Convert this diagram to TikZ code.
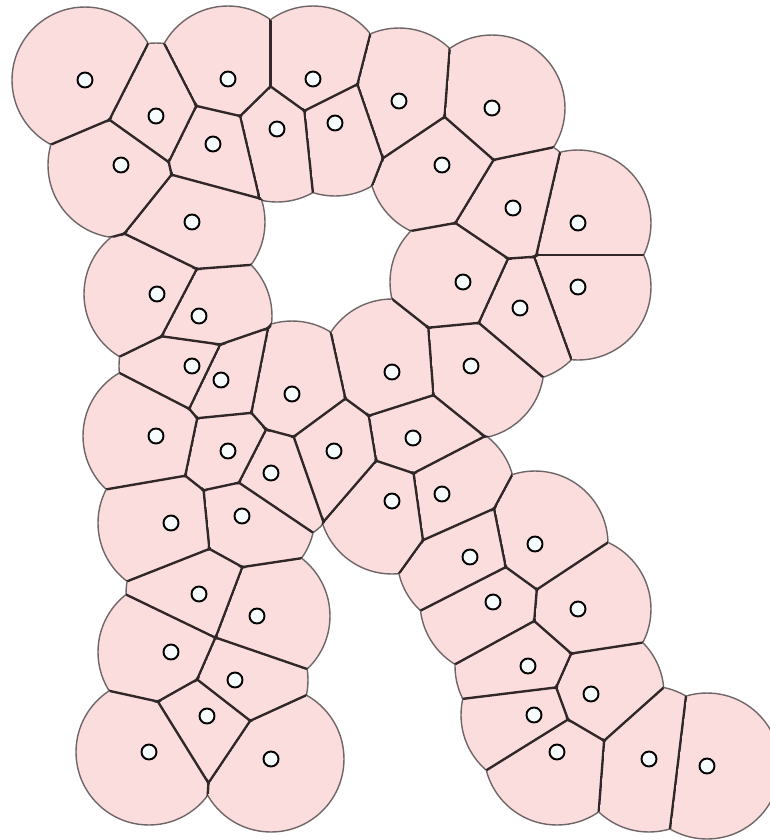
\documentclass[tikz,border=0pt]{standalone}
\usetikzlibrary{calc}
\definecolor{cellpink}{HTML}{FBDDDE}
\definecolor{rimgray}{HTML}{6F6668}
\definecolor{edgedark}{HTML}{2F2728}
\definecolor{dotwhite}{HTML}{F6FBFB}
\tikzset{
  site/.style={circle,draw=black,fill=dotwhite,line width=1.1pt,minimum size=0.30cm,inner sep=0pt},
  rim/.style={draw=rimgray,line width=0.8pt},
  celledge/.style={draw=edgedark,line width=1.35pt,line cap=round},
  cellfill/.style={fill=cellpink}
}
\begin{document}
\begin{tikzpicture}[x=0.02cm,y=-0.02cm]
\useasboundingbox (0,0) rectangle (769,840);
\def\R{73}
\def\Rc{1.46cm}
\def\sites{85/80, 156/116, 228/79, 313/79, 213/144, 277/129, 335/123, 399/101, 492/108, 121/165, 442/165, 192/222, 513/208, 578/223, 157/294, 199/316, 463/282, 520/308, 578/287, 192/366, 221/380, 292/394, 392/372, 471/366, 156/436, 228/451, 334/451, 413/438, 271/473, 392/501, 442/494, 171/523, 242/516, 470/557, 535/544, 493/602, 199/594, 257/616, 578/609, 171/652, 235/680, 528/666, 591/694, 207/716, 534/715, 149/752, 271/759, 557/752, 649/759, 707/766}
\foreach [count=\i] \x/\y in \sites { \coordinate (p\i) at (\x,\y); }
% pass 1: cell fills and outer rims
\foreach [count=\i] \xa/\ya in \sites {
  \begin{scope}
    \foreach [count=\j] \xb/\yb in \sites {
      \pgfmathparse{(\i!=\j)&&(((\xa-\xb)/100)^2+((\ya-\yb)/100)^2<4*(\R/100)^2)}
      \ifdim\pgfmathresult pt>0.5pt
        \clip ($(p\i)!0.5!(p\j)$) coordinate (m) -- ($(m)!6cm!90:(p\j)$) -- ($(m)!6cm!180:(p\j)$) -- ($(m)!6cm!270:(p\j)$) -- cycle;
      \fi
    }
    \path[cellfill] (p\i) circle (\Rc);
    \path[rim] (p\i) circle (\Rc);
  \end{scope}
}
% pass 2: inner cell edges
\foreach [count=\i] \xa/\ya in \sites {
  \begin{scope}
    \foreach [count=\j] \xb/\yb in \sites {
      \pgfmathparse{(\i!=\j)&&(((\xa-\xb)/100)^2+((\ya-\yb)/100)^2<4*(\R/100)^2)}
      \ifdim\pgfmathresult pt>0.5pt
        \clip ($(p\i)!0.5!(p\j)$) coordinate (m0) ($(m0)!0.85pt!(p\j)$) coordinate (m) -- ($(m)!6cm!90:(p\j)$) -- ($(m)!6cm!180:(p\j)$) -- ($(m)!6cm!270:(p\j)$) -- cycle;
      \fi
    }
    \clip (p\i) circle (\Rc);
    \foreach [count=\j] \xb/\yb in \sites {
      \pgfmathparse{(\i<\j)&&(((\xa-\xb)/100)^2+((\ya-\yb)/100)^2<4*(\R/100)^2)}
      \ifdim\pgfmathresult pt>0.5pt
        \path[celledge] ($(p\i)!0.5!(p\j)$) coordinate (m) ($(m)!\Rc!90:(p\j)$) -- ($(m)!\Rc!270:(p\j)$);
      \fi
    }
  \end{scope}
}
\foreach \i in {1,...,50} { \node[site] (s\i) at (p\i) {}; }
\end{tikzpicture}
\end{document}
